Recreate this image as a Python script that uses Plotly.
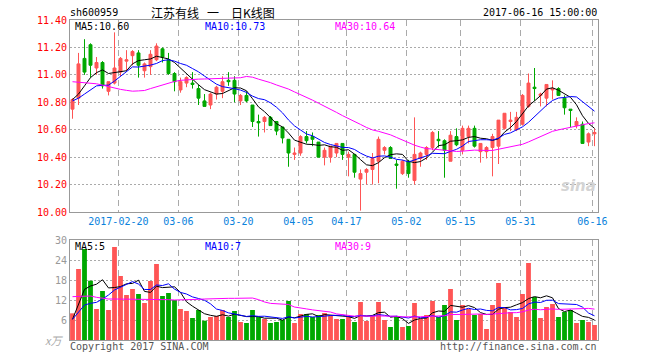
import plotly.graph_objects as go
import pandas as pd

# ---------------- data ----------------
holidays = ["2017-04-03", "2017-04-04", "2017-05-01", "2017-05-29", "2017-05-30"]
dates = [d.strftime("%Y-%m-%d") for d in pd.bdate_range("2017-02-08", "2017-06-16")
         if d.strftime("%Y-%m-%d") not in holidays]

opens = [10.75, 10.83, 11.12, 11.22, 11.05, 11.09, 10.88, 10.94, 11.02, 11.10,
         11.14, 11.16, 11.03, 11.06, 11.11, 11.19, 11.11, 11.01, 10.89, 10.94,
         10.94, 10.90, 10.81, 10.78, 10.86, 10.88, 10.96, 10.96, 10.81, 10.85,
         10.78, 10.66, 10.66, 10.69, 10.66, 10.62, 10.53, 10.42, 10.43, 10.55,
         10.55, 10.51, 10.40, 10.40, 10.43, 10.50, 10.40, 10.42, 10.24, 10.29,
         10.31, 10.37, 10.45, 10.47, 10.35, 10.28, 10.37, 10.23, 10.39, 10.42,
         10.47, 10.53, 10.52, 10.37, 10.55, 10.45, 10.55, 10.61, 10.44, 10.44,
         10.47, 10.48, 10.61, 10.66, 10.60, 10.64, 10.77, 10.91, 10.85, 10.83,
         10.89, 10.90, 10.83, 10.75, 10.63, 10.64, 10.51, 10.57]
highs = [10.83, 11.16, 11.26, 11.23, 11.13, 11.10, 10.95, 11.31, 11.13, 11.18,
         11.18, 11.18, 11.09, 11.18, 11.23, 11.20, 11.16, 11.02, 10.98, 10.99,
         11.02, 10.93, 10.86, 10.87, 10.92, 10.99, 11.02, 10.99, 10.86, 10.88,
         10.78, 10.71, 10.70, 10.70, 10.66, 10.62, 10.53, 10.47, 10.56, 10.59,
         10.58, 10.51, 10.47, 10.48, 10.50, 10.50, 10.44, 10.42, 10.31, 10.32,
         10.43, 10.55, 10.48, 10.48, 10.38, 10.38, 10.38, 10.69, 10.44, 10.48,
         10.59, 10.59, 10.53, 10.59, 10.61, 10.63, 10.63, 10.63, 10.50, 10.48,
         10.57, 10.67, 10.72, 10.73, 10.73, 10.86, 11.01, 11.05, 10.87, 10.93,
         10.96, 10.91, 10.85, 10.75, 10.69, 10.66, 10.58, 10.61]
lows = [10.68, 10.78, 11.00, 10.98, 11.00, 10.90, 10.85, 10.93, 10.99, 11.03,
        11.07, 10.98, 10.98, 11.00, 11.10, 11.09, 11.00, 10.88, 10.87, 10.91,
        10.90, 10.78, 10.77, 10.75, 10.82, 10.83, 10.92, 10.80, 10.78, 10.80,
        10.62, 10.55, 10.58, 10.63, 10.56, 10.50, 10.33, 10.38, 10.41, 10.50,
        10.48, 10.40, 10.34, 10.36, 10.40, 10.38, 10.26, 10.25, 10.01, 10.20,
        10.20, 10.21, 10.42, 10.39, 10.17, 10.27, 10.25, 10.20, 10.33, 10.38,
        10.45, 10.47, 10.25, 10.37, 10.48, 10.42, 10.50, 10.47, 10.36, 10.39,
        10.26, 10.35, 10.60, 10.59, 10.59, 10.63, 10.76, 10.81, 10.77, 10.77,
        10.82, 10.85, 10.71, 10.62, 10.61, 10.50, 10.48, 10.48]
closes = [10.82, 11.08, 11.02, 11.07, 11.09, 10.92, 10.95, 11.05, 11.12, 11.11,
          11.17, 11.07, 11.08, 11.15, 11.21, 11.13, 11.01, 10.95, 10.95, 10.98,
          10.93, 10.83, 10.77, 10.86, 10.91, 10.95, 10.95, 10.86, 10.85, 10.81,
          10.66, 10.65, 10.69, 10.63, 10.59, 10.54, 10.43, 10.43, 10.55, 10.52,
          10.53, 10.40, 10.45, 10.48, 10.50, 10.42, 10.42, 10.29, 10.28, 10.31,
          10.39, 10.53, 10.47, 10.39, 10.34, 10.37, 10.28, 10.42, 10.43, 10.47,
          10.58, 10.52, 10.45, 10.56, 10.49, 10.61, 10.61, 10.48, 10.50, 10.47,
          10.55, 10.67, 10.72, 10.67, 10.69, 10.85, 10.94, 10.90, 10.86, 10.93,
          10.90, 10.85, 10.76, 10.74, 10.66, 10.50, 10.57, 10.58]
volumes = [8.0, 21.3, 27.3, 17.8, 9.3, 14.7, 9.0, 27.9, 19.2, 13.5,
           15.3, 13.8, 11.1, 17.7, 22.8, 13.2, 14.1, 12.0, 9.3, 8.7,
           6.6, 9.0, 5.8, 6.9, 7.2, 9.0, 6.9, 8.7, 5.4, 5.1,
           9.0, 6.9, 6.3, 5.1, 5.4, 6.0, 11.7, 5.1, 7.8, 7.8,
           6.9, 7.5, 8.1, 7.2, 6.3, 6.3, 7.2, 5.4, 11.4, 5.7,
           7.2, 11.4, 6.0, 3.9, 6.9, 3.9, 4.2, 11.1, 6.3, 7.5,
           11.7, 6.9, 10.5, 15.3, 6.0, 10.5, 9.3, 7.5, 7.8, 3.3,
           10.5, 17.1, 9.9, 8.4, 6.9, 13.8, 23.1, 12.9, 6.6, 9.9,
           10.8, 6.9, 8.4, 9.0, 5.1, 6.0, 5.4, 4.5]

# moving-average values before enough history is on the chart
ma5_head = [10.82, 10.86, 10.92, 10.98]
ma10_head = [10.81, 10.83, 10.86, 10.89, 10.92, 10.923, 10.925, 10.955, 10.99]
ma30_head = [10.95, 10.947, 10.943, 10.94, 10.935, 10.925, 10.913, 10.903, 10.894, 10.887,
             10.881, 10.883, 10.886, 10.90, 10.913, 10.928, 10.943, 10.952, 10.96, 10.964,
             10.967, 10.969, 10.97, 10.972, 10.974, 10.974, 10.974, 10.977, 10.979]
vma5_head = [6.2, 10.5, 15.2, 16.2]
vma10_head = [6.2, 8.5, 10.5, 11.0, 11.3, 12.3, 13.5, 15.0, 15.8]
vma30_head = [13.0, 13.1, 13.3, 13.2, 12.8, 12.5, 12.3, 12.3, 12.3, 12.3,
              12.3, 12.2, 12.2, 12.2, 12.2, 12.1, 12.1, 12.0, 12.0, 12.0,
              12.1, 12.2, 12.3, 12.4, 12.4, 12.5, 12.5, 12.5, 12.5]

tick_dates = ["2017-02-20", "2017-03-06", "2017-03-20", "2017-04-05", "2017-04-17",
              "2017-05-02", "2017-05-15", "2017-05-31", "2017-06-16"]
tick_labels = ["2017-02-20", "03-06", "03-20", "04-05", "04-17", "05-02", "05-15", "05-31", "06-16"]
price_ticks = [10.00, 10.20, 10.40, 10.60, 10.80, 11.00, 11.20, 11.40]
vol_ticks = [6, 12, 18, 24, 30]

title_parts = ["江苏有线", "一", "日K线图"]
code_text = "sh600959"
time_text = "2017-06-16 15:00:00"
ma_labels = ["MA5:10.60", "MA10:10.73", "MA30:10.64"]
vma_labels = ["MA5:5", "MA10:7", "MA30:9"]

# ---------------- derived ----------------
def moving(values, n, head):
    s = pd.Series(values).rolling(n).mean().tolist()
    return head + s[len(head):]

idx = list(range(len(dates)))
ma5 = moving(closes, 5, ma5_head)
ma10 = moving(closes, 10, ma10_head)
ma30 = moving(closes, 30, ma30_head)
vma5 = moving(volumes, 5, vma5_head)
vma10 = moving(volumes, 10, vma10_head)
vma30 = moving(volumes, 30, vma30_head)

RED = "#ff5555"
GREEN = "#00a800"
BLUE_TXT = "#0a82dc"
MONO = "DejaVu Sans Mono"
vol_colors = [RED if c >= o else GREEN for o, c in zip(opens, closes)]

grid_off = 0.35
tickpos = [dates.index(d) - grid_off for d in tick_dates]
xr = [-0.4167, len(dates) - 1 + 0.583]

fig = go.Figure()
fig.add_trace(go.Candlestick(
    x=idx, open=opens, high=highs, low=lows, close=closes,
    increasing=dict(line=dict(color=RED, width=1), fillcolor=RED),
    decreasing=dict(line=dict(color=GREEN, width=1), fillcolor=GREEN),
    whiskerwidth=0, xaxis="x", yaxis="y", hoverinfo="skip"))
for vals, col in [(ma5, "black"), (ma10, "#0000ff"), (ma30, "#ff00ff")]:
    fig.add_trace(go.Scatter(x=idx, y=vals, mode="lines", line=dict(color=col, width=1),
                             xaxis="x", yaxis="y", hoverinfo="skip"))
fig.add_trace(go.Bar(x=idx, y=volumes, marker=dict(color=vol_colors, line=dict(width=0)),
                     width=0.8, xaxis="x2", yaxis="y2", hoverinfo="skip"))
for vals, col in [(vma5, "black"), (vma10, "#0000ff"), (vma30, "#ff00ff")]:
    fig.add_trace(go.Scatter(x=idx, y=vals, mode="lines", line=dict(color=col, width=1),
                             xaxis="x2", yaxis="y2", hoverinfo="skip"))

common_x = dict(range=xr, tickvals=tickpos, showgrid=True, gridcolor="#aaaaaa",
                griddash="6px,4px", gridwidth=1, ticks="", showline=True,
                linecolor="#999999", linewidth=1, mirror=True, zeroline=False,
                fixedrange=True, automargin=False)
common_y = dict(showgrid=True, gridcolor="#aaaaaa", griddash="2px,2px", ticks="",
                showline=True, linecolor="#999999", mirror=True, zeroline=False,
                automargin=False, fixedrange=True)
fig.update_layout(
    template="none",
    width=660, height=360, margin=dict(l=70, r=62, t=20, b=20, autoexpand=False),
    paper_bgcolor="white", plot_bgcolor="white", showlegend=False,
    xaxis=dict(domain=[0, 1], anchor="y", ticktext=tick_labels,
               tickfont=dict(family=MONO, size=10, color=BLUE_TXT),
               rangeslider=dict(visible=False), **common_x),
    xaxis2=dict(domain=[0, 1], anchor="y2", showticklabels=False, **common_x),
    yaxis=dict(domain=[0.4, 1], anchor="x", range=[10.0, 11.4], tickvals=price_ticks,
               ticktext=["%.2f" % v for v in price_ticks],
               tickfont=dict(family=MONO, size=10, color="#ff0000"), **common_y),
    yaxis2=dict(domain=[0, 0.3125], anchor="x2", range=[0, 30], tickvals=vol_ticks,
                tickfont=dict(family=MONO, size=10, color="#999999"), **common_y),
)

def px_x(p):
    return (p - 70) / 528.0

def px_y(p):
    return (340 - p) / 320.0

ann = []
def add(text, x, y, color="black", size=10, family=MONO, xanchor="left", italic=False):
    ann.append(dict(text=("<i>%s</i>" % text) if italic else text, x=px_x(x), y=px_y(y),
                    xref="paper", yref="paper", xanchor=xanchor, yanchor="middle",
                    showarrow=False, font=dict(family=family, size=size, color=color),
                    borderpad=0))

add(code_text, 69, 13)
for t, x in zip(title_parts, [150, 206, 230]):
    add(t, x, 12, size=12, family="Noto Sans CJK SC")
add(time_text, 598, 13, xanchor="right")
for t, x, c in zip(ma_labels, [74, 204, 334], ["black", "#0000ff", "#ff00ff"]):
    add(t, x, 26, color=c)
for t, x, c in zip(vma_labels, [74, 204, 334], ["black", "#0000ff", "#ff00ff"]):
    add(t, x, 246, color=c)
add("Copyright 2017 SINA.COM", 69, 346, color="#555555")
add("http://finance.sina.com.cn", 598, 346, color="#555555", xanchor="right")
add("x万", 64, 340, color="#aaaaaa", size=11, family="Noto Sans CJK SC", xanchor="right", italic=True)
add("<b>sina</b>", 597, 186, color="#d4d4d4", size=15, family="DejaVu Sans", xanchor="right", italic=True)
fig.update_layout(annotations=ann)

fig.write_html("out.html", config={"displayModeBar": False, "staticPlot": True},
               post_script="document.documentElement.style.margin='0';"
                           "document.body.style.margin='0';"
                           "document.body.style.overflow='hidden';")
